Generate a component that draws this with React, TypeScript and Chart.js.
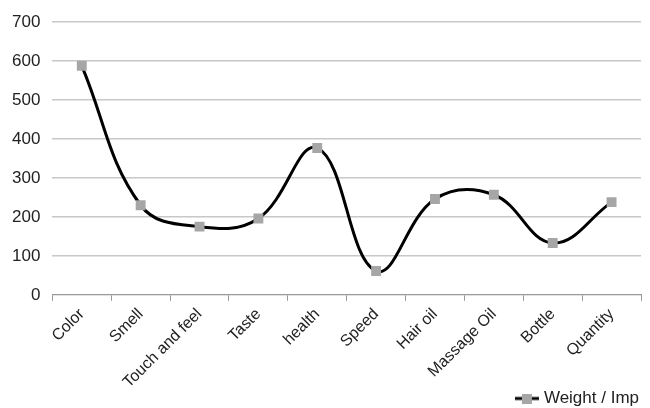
import React, { useEffect, useRef } from "react";
import { Chart, registerables } from "chart.js";

Chart.register(...registerables);

const categories = ["Color", "Smell", "Touch and feel", "Taste", "health", "Speed", "Hair oil", "Massage Oil", "Bottle", "Quantity"];
const weightValues = [588, 230, 175, 196, 377, 61, 246, 257, 133, 238];
const seriesLabel = "Weight / Imp";
const yMin = 0;
const yMax = 700;
const yStep = 100;

function makeLegendIcon(): HTMLCanvasElement {
  const c = document.createElement("canvas");
  c.width = 24;
  c.height = 10;
  const ctx = c.getContext("2d")!;
  ctx.strokeStyle = "#000";
  ctx.lineWidth = 3;
  ctx.beginPath();
  ctx.moveTo(0, 5);
  ctx.lineTo(24, 5);
  ctx.stroke();
  ctx.fillStyle = "#a6a6a6";
  ctx.fillRect(7, 0, 10, 10);
  return c;
}

export default function App() {
  const ref = useRef<HTMLCanvasElement | null>(null);
  useEffect(() => {
    document.body.style.margin = "0";
    const font = "'Liberation Sans', Arial, sans-serif";
    const chart = new Chart(ref.current!, {
      type: "line",
      data: {
        labels: categories,
        datasets: [
          {
            label: seriesLabel,
            data: weightValues,
            borderColor: "#000000",
            borderWidth: 3,
            tension: 0.4,
            pointStyle: "rect",
            pointRadius: 7,
            pointBackgroundColor: "#a6a6a6",
            pointBorderColor: "#a6a6a6",
            pointBorderWidth: 0,
            fill: false,
          },
        ],
      },
      options: {
        animation: false,
        responsive: false,
        maintainAspectRatio: false,
        layout: { padding: { top: 6, right: 9, left: 0, bottom: -9 } },
        plugins: {
          tooltip: { enabled: false },
          legend: {
            position: "bottom",
            align: "end",
            labels: {
              usePointStyle: true,
              pointStyle: makeLegendIcon(),
              color: "#222",
              font: { family: font, size: 17 },
              padding: 2,
            },
          },
        },
        scales: {
          x: {
            offset: true,
            afterFit: (scale: any) => {
              scale.height -= 8;
            },
            grid: { display: true, drawOnChartArea: false, drawTicks: true, tickLength: 6, offset: true, color: "#999" },
            border: { display: true, color: "#999" },
            ticks: {
              maxRotation: 45,
              minRotation: 45,
              autoSkip: false,
              color: "#222",
              font: { family: font, size: 16 },
              padding: 4,
            },
          },
          y: {
            min: yMin,
            max: yMax,
            ticks: { stepSize: yStep, color: "#222", font: { family: font, size: 17 }, padding: 12 },
            grid: { color: "#c8c8c8", lineWidth: 1.5, drawTicks: false },
            border: { display: false },
          },
        },
      },
    });
    return () => chart.destroy();
  }, []);
  return (
    <div style={{ width: 650, height: 408 }}>
      <canvas ref={ref} width={650} height={408} style={{ display: "block" }} />
    </div>
  );
}
